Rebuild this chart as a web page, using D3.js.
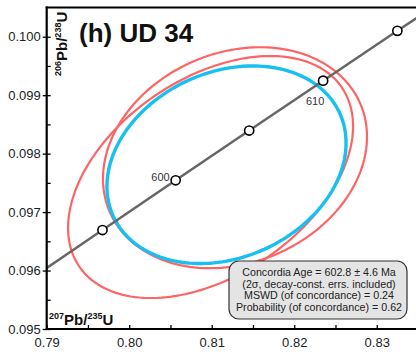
<!DOCTYPE html>
<html>
<head>
<meta charset="utf-8">
<script src="https://cdn.jsdelivr.net/npm/d3@7"></script>
<style>
  body { margin: 0; background: #fff; }
  svg { display: block; }
  text { font-family: "Liberation Sans", Arial, sans-serif; }
</style>
</head>
<body>
<script>
// axis ticks
var xMajor = [0.79, 0.80, 0.81, 0.82, 0.83]
var xMinor = [0.795, 0.805, 0.815, 0.825]
var yMajor = [0.095, 0.096, 0.097, 0.098, 0.099, 0.100]
var yMinor = [0.0955, 0.0965, 0.0975, 0.0985, 0.0995]

// analyses (red ellipses): 207/235, 2s, 206/238, 2s, rho
var r75 = [0.80986, 0.81282]
var e75 = [0.01727, 0.01600]
var r68 = [0.09760, 0.09793]
var e68 = [0.00207, 0.00189]
var rhos = [0.42, 0.19]

// concordia age ellipse (blue)
var ageX = [0.81179]
var ageSx = [0.01449]
var ageY = [0.09781]
var ageSy = [0.00169]
var ageRho = [0.22]

// concordia curve points (Ma)
var concAges = [590, 595, 600, 605, 610, 615, 620]
var concX = [0.78794, 0.79676, 0.80563, 0.81454, 0.82350, 0.83250, 0.84155]
var concY = [0.095843, 0.096693, 0.097544, 0.098395, 0.099248, 0.100101, 0.100954]
var markerAges = [595, 600, 605, 610, 615]
var labelAges = [600, 610]

var title = '(h) UD 34'
var boxLines = [
  'Concordia Age = 602.8 \u00b1 4.6 Ma',
  '(2\u03c3, decay-const. errs. included)',
  'MSWD (of concordance) = 0.24',
  'Probability (of concordance) = 0.62'
]

var width = 416
var height = 352

var svg = d3.select('body').append('svg')
  .attr('width', width)
  .attr('height', height)

var x = d3.scaleLinear().domain([0.79, 0.835]).range([46.7, 418])
var y = d3.scaleLinear().domain([0.095, 0.1005]).range([329, 7.5])

svg.append('clipPath').attr('id', 'plot')
  .append('rect')
  .attr('x', x(0.79)).attr('y', y(0.1005))
  .attr('width', x(0.835) - x(0.79))
  .attr('height', y(0.095) - y(0.1005))

var plot = svg.append('g').attr('clip-path', 'url(#plot)')

// error ellipse as a closed path
function ellipse (cx, sx, cy, sy, rho) {
  var d = Math.acos(rho)
  var pts = []
  for (var i = 0; i < 180; i++) {
    var t = i * Math.PI / 90
    pts.push([x(cx + sx * Math.cos(t)), y(cy + sy * Math.cos(t - d))])
  }
  return pts
}
var ringLine = d3.line().curve(d3.curveLinearClosed)

r75.forEach(function (v, i) {
  plot.append('path')
    .attr('d', ringLine(ellipse(v, e75[i], r68[i], e68[i], rhos[i])))
    .attr('fill', 'none')
    .attr('stroke', '#ff6464')
    .attr('stroke-width', 2.2)
})

ageX.forEach(function (v, i) {
  plot.append('path')
    .attr('d', ringLine(ellipse(v, ageSx[i], ageY[i], ageSy[i], ageRho[i])))
    .attr('fill', 'none')
    .attr('stroke', '#17c0f0')
    .attr('stroke-width', 3.4)
})

// concordia
var conc = concAges.map(function (a, i) { return [concX[i], concY[i]] })
plot.append('path')
  .attr('d', d3.line().curve(d3.curveNatural)
    .x(function (d) { return x(d[0]) })
    .y(function (d) { return y(d[1]) })(conc))
  .attr('fill', 'none')
  .attr('stroke', '#666')
  .attr('stroke-width', 2.5)

markerAges.forEach(function (a) {
  var i = concAges.indexOf(a)
  plot.append('circle')
    .attr('cx', x(concX[i]))
    .attr('cy', y(concY[i]))
    .attr('r', 4.6)
    .attr('fill', '#fff')
    .attr('stroke', '#000')
    .attr('stroke-width', 1.6)
})

// age labels: 600 to the left of its marker, 610 below
var labelOffsets = [[-6, 1, 'end'], [-8, 24, 'middle']]
labelAges.forEach(function (a, k) {
  var i = concAges.indexOf(a)
  svg.append('text')
    .attr('x', x(concX[i]) + labelOffsets[k][0])
    .attr('y', y(concY[i]) + labelOffsets[k][1])
    .attr('text-anchor', labelOffsets[k][2])
    .attr('font-size', 11)
    .attr('fill', '#333')
    .text(a)
})

// axes
function styleAxis (g) {
  g.select('.domain').remove()
  g.selectAll('line').attr('stroke', '#000').attr('stroke-width', 1.3)
  g.selectAll('text').attr('font-size', 13).attr('fill', '#222')
}

svg.append('g')
  .attr('transform', 'translate(' + x(0.79) + ',0)')
  .call(d3.axisLeft(y).tickValues(yMajor).tickSize(4).tickPadding(2)
    .tickFormat(d3.format('.3f')))
  .call(styleAxis)

svg.append('g')
  .attr('transform', 'translate(' + x(0.79) + ',0)')
  .call(d3.axisLeft(y).tickValues(yMajor.concat(yMinor)).tickSize(-4)
    .tickFormat(''))
  .call(styleAxis)

svg.append('g')
  .attr('transform', 'translate(0,' + y(0.095) + ')')
  .call(d3.axisBottom(x).tickValues(xMajor.concat(xMinor)).tickSize(-4).tickPadding(9)
    .tickFormat(function (d) { return xMajor.indexOf(d) >= 0 ? d3.format('.2f')(d) : '' }))
  .call(styleAxis)

// frame
svg.append('line')
  .attr('x1', x(0.79)).attr('x2', x(0.79))
  .attr('y1', y(0.1005) - 1).attr('y2', y(0.095) + 1)
  .attr('stroke', '#000').attr('stroke-width', 2.2)
svg.append('line')
  .attr('x1', x(0.79) - 1).attr('x2', width)
  .attr('y1', y(0.095)).attr('y2', y(0.095))
  .attr('stroke', '#000').attr('stroke-width', 2.2)
svg.append('line')
  .attr('x1', x(0.79) - 1).attr('x2', width)
  .attr('y1', y(0.1005)).attr('y2', y(0.1005))
  .attr('stroke', '#000').attr('stroke-width', 2.2)

// result box
var box = svg.append('g')
box.append('rect')
  .attr('x', 229).attr('y', 261)
  .attr('width', 178).attr('height', 58)
  .attr('rx', 10).attr('ry', 10)
  .attr('fill', '#e4e4e4')
  .attr('stroke', '#333')
  .attr('stroke-width', 1.2)
box.selectAll('text').data(boxLines).enter().append('text')
  .attr('x', 319)
  .attr('y', function (d, i) { return 276 + i * 11.6 })
  .attr('text-anchor', 'middle')
  .attr('font-size', 10.7)
  .attr('fill', '#222')
  .text(function (d) { return d })

// title
svg.append('text')
  .attr('x', 79).attr('y', 41.5)
  .attr('font-size', 26)
  .attr('font-weight', 'bold')
  .attr('fill', '#111')
  .text(title)

// axis titles with superscripts
function isoLabel (sel, a, b) {
  sel.attr('font-weight', 'bold').attr('font-size', 15).attr('fill', '#111')
  sel.append('tspan').attr('font-size', 9).attr('dy', -6).text(a)
  sel.append('tspan').attr('dy', 6).text('Pb/')
  sel.append('tspan').attr('font-size', 9).attr('dy', -6).text(b)
  sel.append('tspan').attr('dy', 6).text('U')
}

svg.append('text')
  .attr('transform', 'translate(67,76) rotate(-90)')
  .call(isoLabel, '206', '238')

svg.append('text')
  .attr('x', 49).attr('y', 325)
  .call(isoLabel, '207', '235')
</script>
</body>
</html>
